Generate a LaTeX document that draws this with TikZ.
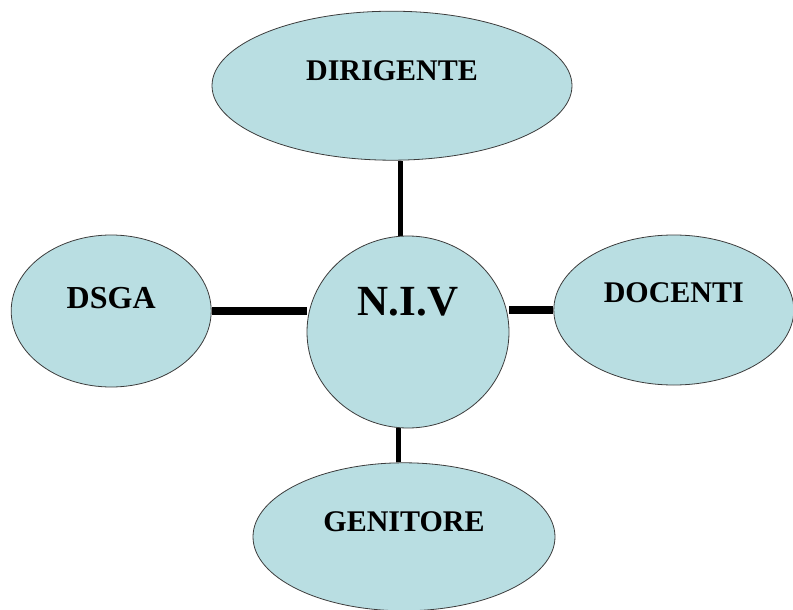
\documentclass[tikz,border=0pt]{standalone}
\usepackage{fontspec}
\setmainfont{Liberation Serif}
\usepackage{tikz}
\usetikzlibrary{positioning,shapes.geometric,backgrounds}
\definecolor{bubble}{RGB}{185,222,226}
\definecolor{rim}{RGB}{60,60,60}

\begin{document}
\begin{tikzpicture}[
    x=1pt, y=-1pt,
    oval/.style={ellipse, draw=rim, line width=0.8pt, fill=bubble, inner sep=0pt,
                 align=center, font=\bfseries\fontsize{30}{36}\selectfont},
    vlink/.style={line width=5pt, black},
    hlink/.style={line width=8pt, black}
]
  \useasboundingbox (0,0) rectangle (793,610);

  % Centre
  \node[oval, minimum width=202pt, minimum height=192pt, text height=28pt, text depth=61pt,
        font=\bfseries\fontsize{43}{50}\selectfont] (niv) at (408,332) {N.I.V};

  % Dirigente
  \node[oval, minimum width=360pt, minimum height=149pt, text height=20pt, text depth=30pt,
        above=75pt of niv, xshift=-16pt] (dir) {DIRIGENTE};

  % DSGA
  \node[oval, minimum width=200pt, minimum height=152pt, text height=21pt, text depth=26pt,
        font=\bfseries\fontsize{32}{38}\selectfont,
        left=95pt of niv, yshift=21pt] (dsga) {DSGA};

  % Docenti
  \node[oval, minimum width=240pt, minimum height=150pt, text height=20pt, text depth=35pt,
        right=44pt of niv, yshift=22pt] (doc) {DOCENTI};

  % Genitore
  \node[oval, minimum width=302pt, minimum height=148pt, text height=20pt, text depth=30pt,
        below=34pt of niv, xshift=-4pt] (gen) {GENITORE};

  % Links
  \begin{scope}[on background layer]
    \draw[vlink] ([xshift=-8pt]niv.north) -- ([xshift=-8pt]niv.north |- dir.south);
    \draw[vlink] ([xshift=-10pt]niv.south) -- ([xshift=-10pt]niv.south |- gen.north);
    \draw[hlink] (dsga.east) -- (dsga.east -| niv.west);
    \draw[hlink] (doc.west) -- (doc.west -| niv.east);
  \end{scope}

\end{tikzpicture}
\end{document}
